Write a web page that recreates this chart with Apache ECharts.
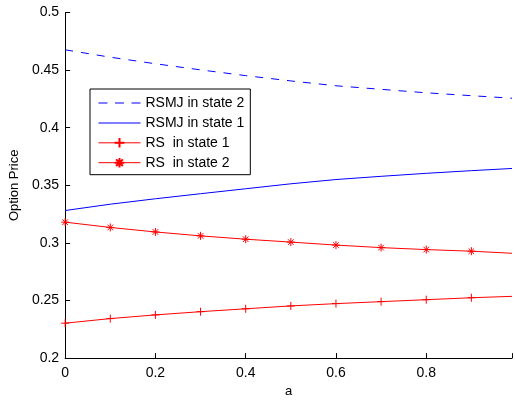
<!DOCTYPE html>
<html lang="en">
<head>
    <meta charset="UTF-8">
    <title>Option Price</title>
    <script src="https://cdn.jsdelivr.net/npm/echarts@6/dist/echarts.min.js"></script>
    <style>
        body { margin: 0; background: #fff; }
        #chart { width: 515px; height: 403px; }
    </style>
</head>
<body>
    <div id="chart"></div>
    <script>
        // a values (markers drawn at 0..0.9, line runs to 0.99)
        const aValues = [0, 0.1, 0.2, 0.3, 0.4, 0.5, 0.6, 0.7, 0.8, 0.9, 0.99];
        const rsmjState2 = [0.4676, 0.4612, 0.4555, 0.4502, 0.4452, 0.4406, 0.4364, 0.4333, 0.4303, 0.4278, 0.4256];
        const rsmjState1 = [0.3281, 0.3336, 0.3383, 0.3427, 0.3470, 0.3513, 0.3550, 0.3578, 0.3604, 0.3627, 0.3646];
        const rsState1 = [0.2303, 0.2343, 0.2375, 0.2403, 0.2428, 0.2453, 0.2473, 0.2490, 0.2507, 0.2524, 0.2536];
        const rsState2 = [0.3180, 0.3134, 0.3095, 0.3061, 0.3032, 0.3007, 0.2981, 0.2959, 0.2942, 0.2928, 0.2910];
        const xTicks = [0, 0.2, 0.4, 0.6, 0.8];
        const legendNames = ['RSMJ in state 2', 'RSMJ in state 1', 'RS  in state 1', 'RS  in state 2'];

        const plusSymbol = 'path://M5,0 L5,10 M0,5 L10,5';
        const starSymbol = 'path://M5,0 L5,10 M0,5 L10,5 M1.5,1.5 L8.5,8.5 M8.5,1.5 L1.5,8.5';
        // legend icons for the plain lines (thin bars, kept in aspect)
        const dashIcon = 'path://M0,0 L9,0 L9,1 L0,1 Z M16.5,0 L25.5,0 L25.5,1 L16.5,1 Z M33,0 L42,0 L42,1 L33,1 Z';
        const solidIcon = 'path://M0,0 L42,0 L42,1 L0,1 Z';

        function toData(values, withMarkers) {
            return values.map((v, i) => {
                const item = { value: [aValues[i], v] };
                if (withMarkers && aValues[i] > 0.95) item.symbol = 'none';
                return item;
            });
        }

        const font = 'Helvetica, Arial, "Liberation Sans", sans-serif';

        const chart = echarts.init(document.getElementById('chart'));
        const option = {
            animation: false,
            grid: { left: 61, right: 1, top: 12.5, bottom: 36.5 },
            legend: {
                data: [
                    { name: legendNames[0], icon: dashIcon },
                    { name: legendNames[1], icon: solidIcon },
                    { name: legendNames[2] },
                    { name: legendNames[3] }
                ],
                orient: 'vertical',
                left: 90,
                top: 89,
                width: 159,
                padding: [7, 6, 5, 8],
                itemWidth: 42,
                itemHeight: 12,
                itemGap: 5.9,
                symbolKeepAspect: true,
                lineStyle: { width: 1 },
                borderColor: '#000',
                borderWidth: 1,
                backgroundColor: '#fff',
                textStyle: { fontFamily: font, fontSize: 14, color: '#000' }
            },
            xAxis: {
                type: 'value',
                min: 0,
                max: 0.99,
                interval: 0.2,
                name: 'a',
                nameLocation: 'middle',
                nameGap: 18,
                nameTextStyle: { fontFamily: font, fontSize: 13, color: '#000' },
                axisLine: { lineStyle: { color: '#000', width: 1 } },
                axisTick: { inside: true, length: 5, lineStyle: { color: '#000' } },
                axisLabel: {
                    fontFamily: font, fontSize: 14, color: '#000', margin: 8,
                    formatter: v => xTicks.some(t => Math.abs(t - v) < 1e-9) ? String(v) : ''
                },
                splitLine: { show: false }
            },
            yAxis: {
                type: 'value',
                min: 0.2,
                max: 0.5,
                interval: 0.05,
                name: 'Option Price',
                nameLocation: 'middle',
                nameGap: 38,
                nameTextStyle: { fontFamily: font, fontSize: 13, color: '#000' },
                axisLine: { show: true, lineStyle: { color: '#000', width: 1 } },
                axisTick: { show: true, inside: true, length: 5, lineStyle: { color: '#000' } },
                axisLabel: {
                    fontFamily: font, fontSize: 14, color: '#000', margin: 6,
                    formatter: v => String(Math.round(v * 100) / 100)
                },
                splitLine: { show: false }
            },
            series: [
                {
                    name: 'RSMJ in state 2',
                    type: 'line',
                    data: toData(rsmjState2, false),
                    symbol: 'none',
                    lineStyle: { color: '#0000ff', width: 1, type: [8, 8] },
                    itemStyle: { color: '#0000ff' }
                },
                {
                    name: 'RSMJ in state 1',
                    type: 'line',
                    data: toData(rsmjState1, false),
                    symbol: 'none',
                    lineStyle: { color: '#0000ff', width: 1 },
                    itemStyle: { color: '#0000ff' }
                },
                {
                    name: 'RS  in state 1',
                    type: 'line',
                    data: toData(rsState1, true),
                    symbol: plusSymbol,
                    symbolSize: 8,
                    lineStyle: { color: '#ff0000', width: 1 },
                    itemStyle: { color: '#ff0000', borderColor: '#ff0000', borderWidth: 1 }
                },
                {
                    name: 'RS  in state 2',
                    type: 'line',
                    data: toData(rsState2, true),
                    symbol: starSymbol,
                    symbolSize: 8,
                    lineStyle: { color: '#ff0000', width: 1 },
                    itemStyle: { color: '#ff0000', borderColor: '#ff0000', borderWidth: 1 }
                }
            ]
        };
        chart.setOption(option);
    </script>
</body>
</html>
